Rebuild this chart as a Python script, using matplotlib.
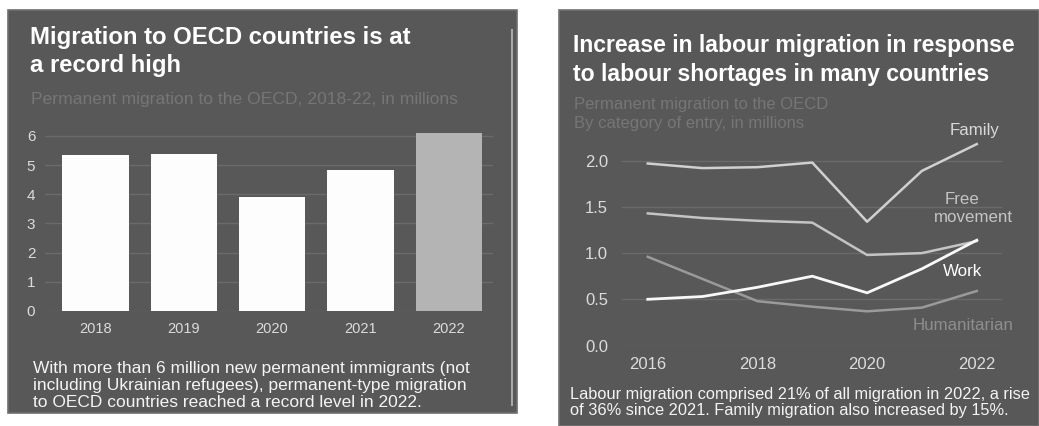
import matplotlib
import matplotlib.pyplot as plt
from matplotlib.patches import Rectangle

matplotlib.use("agg")
plt.rcParams["font.family"] = ["Liberation Sans", "DejaVu Sans"]

W, H = 1039, 426

# Left chart: permanent migration to the OECD, millions
bar_years = ["2018", "2019", "2020", "2021", "2022"]
bar_values = [5.33, 5.38, 3.9, 4.83, 6.1]
bar_colors = ["#fdfdfd", "#fdfdfd", "#fdfdfd", "#fdfdfd", "#b4b4b4"]

# Right chart: by category of entry, millions
years = [2016, 2017, 2018, 2019, 2020, 2021, 2022]
family = [1.97, 1.92, 1.93, 1.98, 1.34, 1.89, 2.18]
free_movement = [1.43, 1.38, 1.35, 1.33, 0.98, 1.0, 1.13]
work = [0.5, 0.53, 0.63, 0.75, 0.57, 0.83, 1.14]
humanitarian = [0.96, 0.72, 0.48, 0.42, 0.37, 0.41, 0.59]

BG = "#585858"
GRID = "#6a6a6a"
TICK = "#dcdcdc"
SUB = "#767676"


def fx(px):
    return px / W


def fy(py):
    return 1 - py / H


def box(x0, y0, x1, y1):
    # rect in figure fraction from pixel corners (top-left, bottom-right)
    return [fx(x0), fy(y1), fx(x1) - fx(x0), fy(y0) - fy(y1)]


def style_axes(ax):
    ax.set_facecolor("none")
    for spine in ax.spines.values():
        spine.set_visible(False)
    ax.grid(axis="y", color=GRID, linewidth=1)
    ax.set_axisbelow(True)
    ax.tick_params(length=0, colors=TICK)


fig = plt.figure(figsize=(W / 100, H / 100), dpi=100, facecolor="white")

# panel backgrounds (behind the axes)
fig.patches.append(Rectangle((fx(8), fy(413)), fx(517) - fx(8), fy(10) - fy(413),
                             transform=fig.transFigure, facecolor=BG, edgecolor="#6e6e6e",
                             linewidth=1.2, zorder=-5))
fig.patches.append(Rectangle((fx(559), fy(426)), fx(1039) - fx(559), fy(10) - fy(426),
                             transform=fig.transFigure, facecolor=BG, edgecolor="#727272",
                             linewidth=1.2, zorder=-5))
fig.add_artist(plt.Line2D([fx(512), fx(512)], [fy(30), fy(405)], color="#a8a8a8", linewidth=1.5))

# ---- left: bar chart ----
ax1 = fig.add_axes(box(45, 130, 493, 311))
style_axes(ax1)
ax1.bar(range(len(bar_years)), bar_values, width=0.75, color=bar_colors, zorder=3)
ax1.set_xlim(-0.57, 4.5)
ax1.set_ylim(0, 6.2)
ax1.set_yticks(range(0, 7))
ax1.set_xticks(range(len(bar_years)))
ax1.set_xticklabels(bar_years)
ax1.tick_params(axis="x", labelsize=10.5, pad=8)
ax1.tick_params(axis="y", labelsize=11, pad=7)

fig.text(fx(30), fy(44), "Migration to OECD countries is at", color="white",
         fontsize=17.2, fontweight="bold")
fig.text(fx(30), fy(72), "a record high", color="white", fontsize=17.2, fontweight="bold")
fig.text(fx(31), fy(104), "Permanent migration to the OECD, 2018-22, in millions",
         color=SUB, fontsize=12.6)
fig.text(fx(33), fy(407), "With more than 6 million new permanent immigrants (not\n"
         "including Ukrainian refugees), permanent-type migration\n"
         "to OECD countries reached a record level in 2022.",
         color="#f4f4f4", fontsize=12.5, linespacing=1.15, va="baseline")

# ---- right: line chart ----
ax2 = fig.add_axes(box(622, 133, 1002, 345.5))
style_axes(ax2)
ax2.plot(years, family, color="#d0d0d0", linewidth=1.8, zorder=3)
ax2.plot(years, free_movement, color="#c4c4c4", linewidth=1.8, zorder=3)
ax2.plot(years, humanitarian, color="#9a9a9a", linewidth=1.8, zorder=3)
ax2.plot(years, work, color="#f8f8f8", linewidth=2, zorder=4)
ax2.set_xlim(2015.53, 2022.46)
ax2.set_ylim(0, 2.3)
ax2.set_xticks([2016, 2018, 2020, 2022])
ax2.set_yticks([0, 0.5, 1.0, 1.5, 2.0])
ax2.set_yticklabels(["0.0", "0.5", "1.0", "1.5", "2.0"])
ax2.tick_params(axis="x", labelsize=12, pad=8)
ax2.tick_params(axis="y", labelsize=12, pad=10)

fig.text(fx(975), fy(130), "Family", color="#d8d8d8", fontsize=12.2, ha="center", va="center")
fig.text(fx(962), fy(199), "Free", color="#c4c4c4", fontsize=12.2, ha="center", va="center")
fig.text(fx(973), fy(218), "movement", color="#c4c4c4", fontsize=12.2, ha="center", va="center")
fig.text(fx(963), fy(271), "Work", color="white", fontsize=12.2, ha="center", va="center")
fig.text(fx(963), fy(326), "Humanitarian", color="#8e8e8e", fontsize=12.2, ha="center", va="center")

fig.text(fx(573), fy(52), "Increase in labour migration in response", color="white",
         fontsize=16.6, fontweight="bold")
fig.text(fx(573), fy(81), "to labour shortages in many countries", color="white",
         fontsize=16.6, fontweight="bold")
fig.text(fx(574), fy(109), "Permanent migration to the OECD", color=SUB, fontsize=12)
fig.text(fx(574), fy(128), "By category of entry, in millions", color=SUB, fontsize=12)
fig.text(fx(570), fy(415), "Labour migration comprised 21% of all migration in 2022, a rise\n"
         "of 36% since 2021. Family migration also increased by 15%.",
         color="#f4f4f4", fontsize=11.8, linespacing=1.12, va="baseline")

fig.savefig("out.png", dpi=100, facecolor="white")
